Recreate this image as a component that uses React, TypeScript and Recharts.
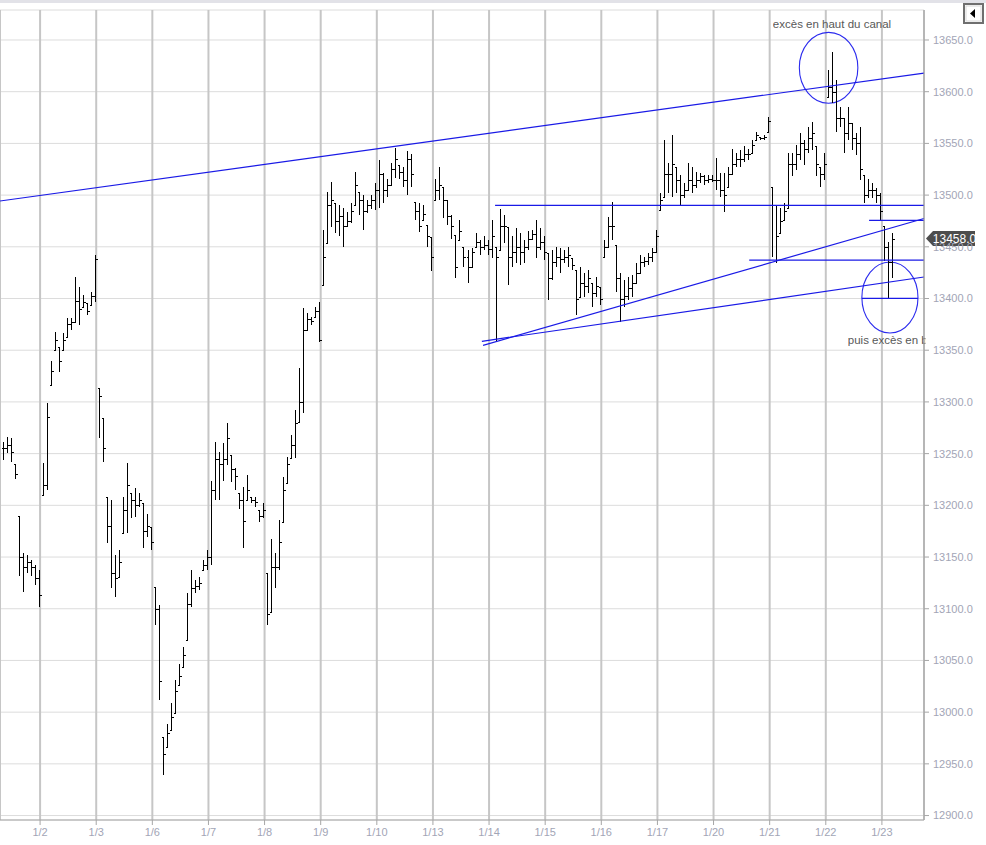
import React from 'react';
import {
  ComposedChart,
  Bar,
  XAxis,
  YAxis,
  CartesianGrid,
  ReferenceLine,
  ReferenceArea,
} from 'recharts';

// hourly bars (10 bars before 1/2, then 14 per session)
const DAY_LABELS = ['1/2', '1/3', '1/6', '1/7', '1/8', '1/9', '1/10', '1/13', '1/14', '1/15', '1/16', '1/17', '1/20', '1/21', '1/22', '1/23'];
const PRE_BARS = 10;
const BARS_PER_DAY = 14;

const HIGHS = [
  13261, 13266, 13265, 13240, 13190, 13154, 13152, 13147, 13142, 13137,
  13241, 13299, 13340, 13368, 13353, 13367, 13381, 13381, 13421, 13411, 13403, 13396, 13406, 13442, // 1/2
  13313, 13284, 13208, 13205, 13152, 13157, 13208, 13241, 13212, 13217, 13212, 13202, 13192, 13179, // 1/3
  13121, 13104, 12976, 12989, 13009, 13031, 13047, 13063, 13115, 13137, 13128, 13131, 13147, 13157, // 1/6
  13224, 13261, 13252, 13260, 13280, 13249, 13236, 13212, 13218, 13229, 13208, 13208, 13195, 13202, // 1/7
  13135, 13167, 13154, 13186, 13227, 13247, 13268, 13292, 13333, 13391, 13386, 13382, 13392, 13397, // 1/8
  13466, 13503, 13513, 13492, 13490, 13488, 13484, 13492, 13522, 13503, 13500, 13495, 13500, 13512, // 1/9
  13534, 13521, 13516, 13531, 13546, 13529, 13527, 13543, 13540, 13493, 13492, 13490, 13471, 13459, // 1/10
  13516, 13527, 13508, 13495, 13481, 13461, 13476, 13450, 13447, 13449, 13463, 13457, 13460, 13457, // 1/13
  13476, 13450, 13487, 13481, 13469, 13460, 13468, 13463, 13457, 13465, 13466, 13476, 13468, 13460, // 1/14
  13444, 13447, 13450, 13449, 13447, 13450, 13439, 13428, 13430, 13425, 13428, 13415, 13421, 13411, // 1/15
  13457, 13479, 13493, 13452, 13425, 13418, 13421, 13423, 13434, 13442, 13440, 13444, 13449, 13466, // 1/16
  13502, 13553, 13531, 13558, 13527, 13519, 13512, 13531, 13527, 13522, 13521, 13519, 13519, 13519, // 1/17
  13536, 13521, 13521, 13527, 13545, 13541, 13544, 13547, 13545, 13553, 13561, 13556, 13558, 13576, // 1/20
  13508, 13490, 13488, 13492, 13541, 13541, 13548, 13560, 13553, 13566, 13571, 13547, 13527, 13541, // 1/21
  13621, 13638, 13611, 13585, 13575, 13585, 13570, 13560, 13566, 13519, 13516, 13512, 13507, 13502, // 1/22
  13470, 13455, 13463, // 1/23
];

const LOWS = [
  13244, 13251, 13242, 13225, 13132, 13116, 13135, 13132, 13123, 13102,
  13210, 13215, 13316, 13350, 13329, 13350, 13363, 13370, 13376, 13374, 13392, 13384, 13394, 13397,
  13265, 13242, 13164, 13120, 13111, 13131, 13173, 13173, 13188, 13189, 13198, 13159, 13169, 13157,
  13084, 13012, 12939, 12966, 12983, 12999, 13026, 13044, 13070, 13102, 13115, 13118, 13137, 13137,
  13142, 13205, 13205, 13224, 13239, 13223, 13215, 13196, 13159, 13205, 13202, 13198, 13184, 13188,
  13084, 13097, 13120, 13137, 13184, 13222, 13246, 13246, 13281, 13289, 13370, 13374, 13382, 13358,
  13413, 13454, 13469, 13463, 13460, 13450, 13469, 13473, 13490, 13481, 13466, 13483, 13487, 13486,
  13488, 13492, 13498, 13510, 13517, 13516, 13508, 13500, 13508, 13476, 13464, 13476, 13450, 13427,
  13495, 13495, 13478, 13471, 13458, 13420, 13457, 13430, 13415, 13430, 13450, 13442, 13447, 13442,
  13439, 13358, 13447, 13454, 13413, 13430, 13434, 13432, 13434, 13447, 13457, 13439, 13447, 13437,
  13399, 13418, 13430, 13425, 13434, 13430, 13428, 13384, 13401, 13401, 13405, 13392, 13401, 13394,
  13440, 13449, 13457, 13406, 13377, 13392, 13399, 13401, 13415, 13425, 13430, 13432, 13435, 13444,
  13486, 13498, 13502, 13498, 13502, 13490, 13497, 13505, 13502, 13507, 13512, 13510, 13512, 13513,
  13505, 13498, 13484, 13508, 13519, 13527, 13527, 13532, 13534, 13541, 13553, 13553, 13553, 13561,
  13440, 13434, 13463, 13476, 13488, 13518, 13524, 13534, 13529, 13541, 13544, 13518, 13508, 13515,
  13595, 13589, 13561, 13566, 13541, 13553, 13544, 13539, 13515, 13492, 13497, 13497, 13492, 13476,
  13436, 13400, 13420,
];

const CLOSES = [
  13255, 13258, 13252, 13230, 13150, 13140, 13145, 13140, 13130, 13113,
  13220, 13285, 13330, 13360, 13340, 13360, 13375, 13377, 13398, 13390, 13397, 13388, 13402, 13438,
  13306, 13255, 13180, 13135, 13130, 13145, 13195, 13220, 13205, 13200, 13205, 13175, 13180, 13165,
  13100, 13030, 12960, 12980, 12995, 13020, 13035, 13055, 13105, 13120, 13122, 13125, 13142, 13150,
  13215, 13245, 13240, 13245, 13265, 13235, 13228, 13205, 13185, 13215, 13205, 13203, 13190, 13195,
  13095, 13140, 13140, 13165, 13215, 13240, 13258, 13280, 13300, 13370, 13380, 13378, 13388, 13360,
  13440, 13490, 13495, 13475, 13480, 13470, 13475, 13485, 13510, 13495, 13485, 13490, 13495, 13505,
  13520, 13505, 13510, 13525, 13535, 13522, 13515, 13535, 13520, 13485, 13470, 13482, 13460, 13440,
  13505, 13510, 13495, 13480, 13470, 13430, 13465, 13440, 13430, 13445, 13455, 13450, 13452, 13448,
  13460, 13440, 13470, 13470, 13440, 13445, 13450, 13445, 13450, 13458, 13462, 13450, 13455, 13445,
  13420, 13435, 13440, 13438, 13440, 13442, 13432, 13400, 13415, 13412, 13420, 13405, 13412, 13400,
  13450, 13470, 13470, 13420, 13400, 13402, 13410, 13415, 13425, 13435, 13436, 13440, 13445, 13460,
  13495, 13520, 13520, 13530, 13515, 13500, 13505, 13515, 13510, 13515, 13518, 13515, 13516, 13515,
  13515, 13505, 13500, 13520, 13530, 13535, 13535, 13540, 13540, 13548, 13558, 13555, 13556, 13572,
  13490, 13460, 13475, 13485, 13530, 13530, 13540, 13550, 13545, 13555, 13560, 13530, 13520, 13530,
  13605, 13600, 13575, 13575, 13560, 13570, 13555, 13550, 13525, 13500, 13505, 13505, 13500, 13485,
  13450, 13435, 13458,
];

const PRICE_TICKS = [12900, 12950, 13000, 13050, 13100, 13150, 13200, 13250, 13300, 13350, 13400, 13450, 13500, 13550, 13600, 13650];
const LAST_PRICE = 13458;
const X_MAX = 230.5;

// hand-drawn objects, in (bar index, price)
const CHANNEL_TOP = [{ x: 0, y: 13494.3 }, { x: X_MAX, y: 13618 }];
const SUPPORT_STEEP = [{ x: 120.5, y: 13354.7 }, { x: X_MAX, y: 13477.4 }];
const SUPPORT_FLAT = [{ x: 120.2, y: 13358.6 }, { x: X_MAX, y: 13420.8 }];
const HLINES = [
  { from: 123.5, to: X_MAX, y: 13490 },
  { from: 186.9, to: X_MAX, y: 13437.2 },
  { from: 216.8, to: X_MAX, y: 13475.6 },
  { from: 215.0, to: 229.0, y: 13400.2 },
];
const CIRCLES = [
  { x1: 199.4, x2: 214.0, y1: 13588.8, y2: 13657.4 },
  { x1: 215.0, x2: 229.0, y1: 13366.6, y2: 13435.3 },
];
// text box: left edge, baseline price, box top price
const NOTES = [
  { x: 192.8, y: 13661.6, top: 13676, size: 11.5, text: 'excès en haut du canal' },
  { x: 211.5, y: 13356.0, top: 13370, size: 11.5, text: 'puis excès en bas du canal' },
];

const BLUE = '#1a1ae6';
const FONT = '"Liberation Sans", Arial, sans-serif';

const bars = HIGHS.map((h, k) => {
  const l = LOWS[k];
  const prev = k === 0 ? CLOSES[0] : CLOSES[k - 1];
  return { i: k + 0.5, h, l, c: CLOSES[k], o: Math.min(h, Math.max(l, prev)) };
});

const dayTicks = DAY_LABELS.map((_, d) => PRE_BARS + d * BARS_PER_DAY);

const OhlcBar = (props: any) => {
  const { x, y, width, height, payload } = props;
  if (x == null || y == null || !payload) return null;
  const top = Math.min(y, y + height);
  const h = Math.abs(height);
  const range = payload.h - payload.l || 1;
  const py = (v: number) => Math.round(top + ((payload.h - v) / range) * h) + 0.5;
  const cx = Math.round(x + width / 2) + 0.5;
  return (
    <g stroke="#000" strokeWidth={1} shapeRendering="crispEdges">
      <line x1={cx} x2={cx} y1={top} y2={top + Math.max(h, 1)} />
      <line x1={cx - 2} x2={cx} y1={py(payload.o)} y2={py(payload.o)} />
      <line x1={cx} x2={cx + 2.5} y1={py(payload.c)} y2={py(payload.c)} />
    </g>
  );
};

const Ellipse = (props: any) => {
  const { x, y, width, height } = props;
  const top = Math.min(y, y + height);
  const hh = Math.abs(height);
  return (
    <ellipse cx={x + width / 2} cy={top + hh / 2} rx={width / 2} ry={hh / 2} fill="none" stroke="#2b2bee" strokeWidth={1.1} />
  );
};

// text clipped at the price axis, like the drawing tool does
const makeNote = (text: string, size: number, baseline: number, topPrice: number, k: number) => (props: any) => {
  const { x, y, width, height } = props;
  const top = Math.min(y, y + height);
  const hh = Math.abs(height);
  const base = top + (hh * (topPrice - baseline)) / (topPrice - baseline + 4);
  const id = `note-clip-${k}`;
  return (
    <g>
      <defs>
        <clipPath id={id}>
          <rect x={x} y={top - 2} width={width + 1.5} height={hh + 4} />
        </clipPath>
      </defs>
      <text x={x} y={base} fill="#585858" fontSize={size} fontFamily={FONT} clipPath={`url(#${id})`}>
        {text}
      </text>
    </g>
  );
};

const PriceTag = (props: any) => {
  const vb = props.viewBox || {};
  const x0 = (vb.x || 0) + (vb.width || 0) + 2;
  const yc = vb.y || 0;
  return (
    <g>
      <polygon
        points={`${x0},${yc} ${x0 + 7},${yc - 7.5} ${x0 + 49},${yc - 7.5} ${x0 + 49},${yc + 7.5} ${x0 + 7},${yc + 7.5}`}
        fill="#4d4d4d"
      />
      <text x={x0 + 28.5} y={yc + 4} textAnchor="middle" fill="#fff" fontSize={12} fontFamily={FONT}>
        {LAST_PRICE.toFixed(1)}
      </text>
    </g>
  );
};

export default function App() {
  return (
    <div style={{ position: 'absolute', left: 0, top: 0, width: 986, height: 845, background: '#fff' }}>
      <div style={{ position: 'absolute', left: 0, top: 0, width: 986, height: 3, background: '#e2e2e8' }} />
      <ComposedChart
        width={986}
        height={845}
        data={bars}
        margin={{ top: 10, right: 0, bottom: 0, left: 0 }}
      >
        <CartesianGrid vertical={false} stroke="#dcdcdc" />
        <CartesianGrid horizontal={false} stroke="#c6c6c6" strokeWidth={2} />
        <XAxis
          dataKey="i"
          type="number"
          domain={[0, X_MAX]}
          allowDataOverflow
          ticks={dayTicks}
          interval={0}
          tickFormatter={(v: number) => DAY_LABELS[Math.round((v - PRE_BARS) / BARS_PER_DAY)] ?? ''}
          height={25}
          tickSize={5}
          tickMargin={3}
          axisLine={{ stroke: '#a6a6a6' }}
          tickLine={{ stroke: '#a6a6a6' }}
          tick={{ fill: '#a2a5b6', fontSize: 11, fontFamily: FONT }}
        />
        <YAxis
          orientation="right"
          type="number"
          width={62}
          domain={[12895.7, 13679]}
          allowDataOverflow
          ticks={PRICE_TICKS}
          interval={0}
          tickFormatter={(v: number) => v.toFixed(1)}
          tickSize={5}
          tickMargin={4}
          axisLine={{ stroke: '#a6a6a6' }}
          tickLine={{ stroke: '#a6a6a6' }}
          tick={{ fill: '#a2a5b6', fontSize: 11, fontFamily: FONT }}
        />
        <Bar dataKey={(d: any) => [d.l, d.h]} shape={<OhlcBar />} barSize={3} isAnimationActive={false} />

        <ReferenceLine segment={CHANNEL_TOP} stroke={BLUE} strokeWidth={1.2} />
        <ReferenceLine segment={SUPPORT_STEEP} stroke={BLUE} strokeWidth={1.2} />
        <ReferenceLine segment={SUPPORT_FLAT} stroke={BLUE} strokeWidth={1.2} />
        {HLINES.map((l, k) => (
          <ReferenceLine
            key={`h${k}`}
            segment={[{ x: l.from, y: l.y }, { x: l.to, y: l.y }]}
            stroke={BLUE}
            strokeWidth={1.2}
          />
        ))}
        {CIRCLES.map((c, k) => (
          <ReferenceArea key={`c${k}`} x1={c.x1} x2={c.x2} y1={c.y1} y2={c.y2} shape={<Ellipse />} />
        ))}
        {NOTES.map((n, k) => (
          <ReferenceArea
            key={`n${k}`}
            x1={n.x}
            x2={X_MAX}
            y1={n.y - 4}
            y2={n.top}
            shape={makeNote(n.text, n.size, n.y, n.top, k)}
          />
        ))}
        <ReferenceLine y={LAST_PRICE} stroke="none" label={<PriceTag />} />
      </ComposedChart>
      <svg style={{ position: 'absolute', left: 963, top: 3 }} width={21} height={21}>
        <rect x={1} y={1} width={19} height={19} fill="#fff" stroke="#6f6f6f" strokeWidth={2} />
        <rect x={3} y={3} width={15} height={15} fill="none" stroke="#d8d8d8" strokeWidth={1} />
        <polygon points="7,10.5 12,6 12,15" fill="#000" />
      </svg>
    </div>
  );
}
